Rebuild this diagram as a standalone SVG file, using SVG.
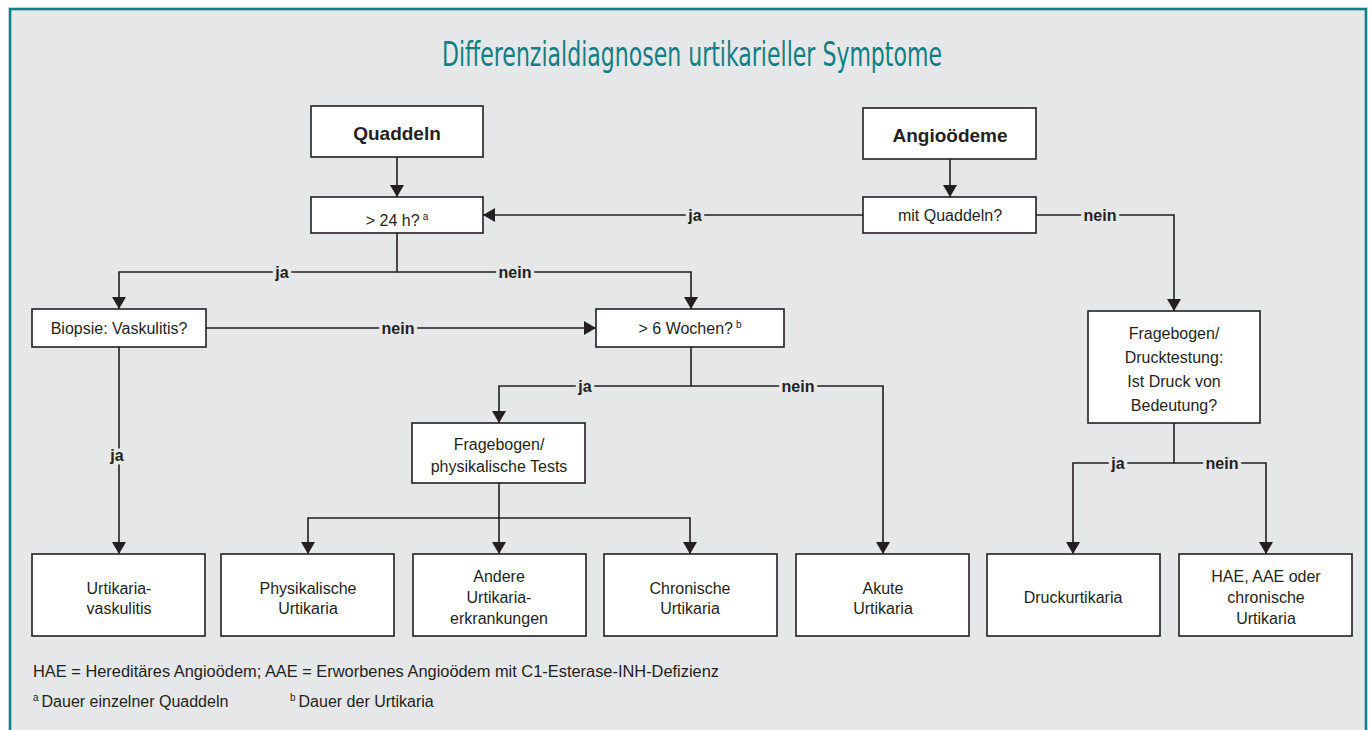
<svg xmlns="http://www.w3.org/2000/svg" width="1370" height="730" viewBox="0 0 1370 730">
<defs>
<marker id="ah" viewBox="0 0 12 14" refX="12" refY="7" markerWidth="12" markerHeight="14" markerUnits="userSpaceOnUse" orient="auto">
<path d="M0,0 L12,7 L0,14 Z" fill="#231f20"/>
</marker>
<style>
.box{fill:#ffffff;stroke:#231f20;stroke-width:1.6}
.t{font-family:"Liberation Sans",Arial,sans-serif;font-size:16px;fill:#231f20;text-anchor:middle}
.b{font-family:"Liberation Sans",Arial,sans-serif;font-size:19px;font-weight:bold;fill:#231f20;text-anchor:middle}
.lbl{font-family:"Liberation Sans",Arial,sans-serif;font-size:16px;font-weight:bold;fill:#231f20;text-anchor:middle;paint-order:stroke;stroke:#e6e7e8;stroke-width:7px;stroke-linejoin:round}
.sup{font-size:10px}
.ln{fill:none;stroke:#231f20;stroke-width:1.6}
.arr{fill:none;stroke:#231f20;stroke-width:1.6;marker-end:url(#ah)}
.fn{font-family:"Liberation Sans",Arial,sans-serif;font-size:16px;fill:#231f20}
</style>
</defs>
<rect x="0" y="0" width="1370" height="730" fill="#ffffff"/>
<rect x="10" y="9" width="1356" height="740" fill="#e6e7e8" stroke="#0f7f86" stroke-width="2.6"/>
<text x="692" y="66" font-family="'Liberation Sans Narrow','DejaVu Sans Condensed','Liberation Sans',sans-serif" font-size="34" fill="#0f7f86" text-anchor="middle" textLength="500" lengthAdjust="spacingAndGlyphs">Differenzialdiagnosen urtikarieller Symptome</text>

<g id="connectors">
<path class="arr" d="M397,157 V197"/>
<path class="arr" d="M950,159 V197"/>
<path class="arr" d="M863,215 H483"/>
<path class="arr" d="M1036,215 H1174 V311"/>
<path class="arr" d="M397,233 V272 H119 V309"/>
<path class="arr" d="M397,272 H691 V309"/>
<path class="arr" d="M206,328 H596"/>
<path class="arr" d="M119,347 V554"/>
<path class="arr" d="M691,347 V386 H499 V423"/>
<path class="arr" d="M691,386 H883 V554"/>
<path class="arr" d="M499,483 V518 H308 V554"/>
<path class="arr" d="M499,518 V554"/>
<path class="arr" d="M499,518 H690 V554"/>
<path class="arr" d="M1174,423 V463 H1073 V554"/>
<path class="arr" d="M1174,463 H1266 V554"/>
<text class="lbl" x="695" y="221">ja</text>
<text class="lbl" x="1100" y="221">nein</text>
<text class="lbl" x="282" y="278">ja</text>
<text class="lbl" x="515" y="278">nein</text>
<text class="lbl" x="398" y="334">nein</text>
<text class="lbl" x="117" y="461">ja</text>
<text class="lbl" x="585" y="392">ja</text>
<text class="lbl" x="798" y="392">nein</text>
<text class="lbl" x="1118" y="469">ja</text>
<text class="lbl" x="1222" y="469">nein</text>
</g>

<g id="n-quaddeln"><rect class="box" x="311" y="106" width="172" height="51"/><text class="b" x="397" y="140">Quaddeln</text></g>
<g id="n-angio"><rect class="box" x="863" y="108" width="173" height="51"/><text class="b" x="950" y="142">Angioödeme</text></g>
<g id="n-24h"><rect class="box" x="311" y="197" width="172" height="36"/><text class="t" x="397" y="226">&gt; 24 h?<tspan class="sup" dx="3" dy="-6">a</tspan></text></g>
<g id="n-mitq"><rect class="box" x="863" y="197" width="173" height="36"/><text class="t" x="950" y="221">mit Quaddeln?</text></g>
<g id="n-biopsie"><rect class="box" x="32" y="309" width="174" height="38"/><text class="t" x="119" y="334">Biopsie: Vaskulitis?</text></g>
<g id="n-6w"><rect class="box" x="596" y="309" width="188" height="38"/><text class="t" x="690" y="334">&gt; 6 Wochen?<tspan class="sup" dx="3" dy="-6">b</tspan></text></g>
<g id="n-druckt"><rect class="box" x="1088" y="311" width="172" height="112"/><text class="t" x="1174" y="339">Fragebogen/</text><text class="t" x="1174" y="363">Drucktestung:</text><text class="t" x="1174" y="387">Ist Druck von</text><text class="t" x="1174" y="411">Bedeutung?</text></g>
<g id="n-physt"><rect class="box" x="412" y="423" width="173" height="60"/><text class="t" x="499" y="450">Fragebogen/</text><text class="t" x="499" y="472">physikalische Tests</text></g>

<g id="n-uv"><rect class="box" x="32" y="554" width="173" height="82"/><text class="t" x="119" y="594">Urtikaria-</text><text class="t" x="119" y="614">vaskulitis</text></g>
<g id="n-pu"><rect class="box" x="221" y="554" width="173" height="82"/><text class="t" x="308" y="594">Physikalische</text><text class="t" x="308" y="614">Urtikaria</text></g>
<g id="n-andere"><rect class="box" x="413" y="554" width="173" height="82"/><text class="t" x="499" y="582">Andere</text><text class="t" x="499" y="603">Urtikaria-</text><text class="t" x="499" y="624">erkrankungen</text></g>
<g id="n-cu"><rect class="box" x="604" y="554" width="173" height="82"/><text class="t" x="690" y="594">Chronische</text><text class="t" x="690" y="614">Urtikaria</text></g>
<g id="n-au"><rect class="box" x="796" y="554" width="173" height="82"/><text class="t" x="883" y="594">Akute</text><text class="t" x="883" y="614">Urtikaria</text></g>
<g id="n-du"><rect class="box" x="987" y="554" width="173" height="82"/><text class="t" x="1073" y="603">Druckurtikaria</text></g>
<g id="n-hae"><rect class="box" x="1179" y="554" width="173" height="82"/><text class="t" x="1266" y="582">HAE, AAE oder</text><text class="t" x="1266" y="603">chronische</text><text class="t" x="1266" y="624">Urtikaria</text></g>

<text class="fn" x="33" y="677" textLength="686" lengthAdjust="spacingAndGlyphs">HAE = Hereditäres Angioödem; AAE = Erworbenes Angioödem mit C1-Esterase-INH-Defizienz</text>
<text class="fn" x="33" y="707"><tspan font-size="10" dy="-6">a</tspan><tspan dx="3" dy="6">Dauer einzelner Quaddeln</tspan></text>
<text class="fn" x="290" y="707"><tspan font-size="10" dy="-6">b</tspan><tspan dx="3" dy="6">Dauer der Urtikaria</tspan></text>
</svg>
